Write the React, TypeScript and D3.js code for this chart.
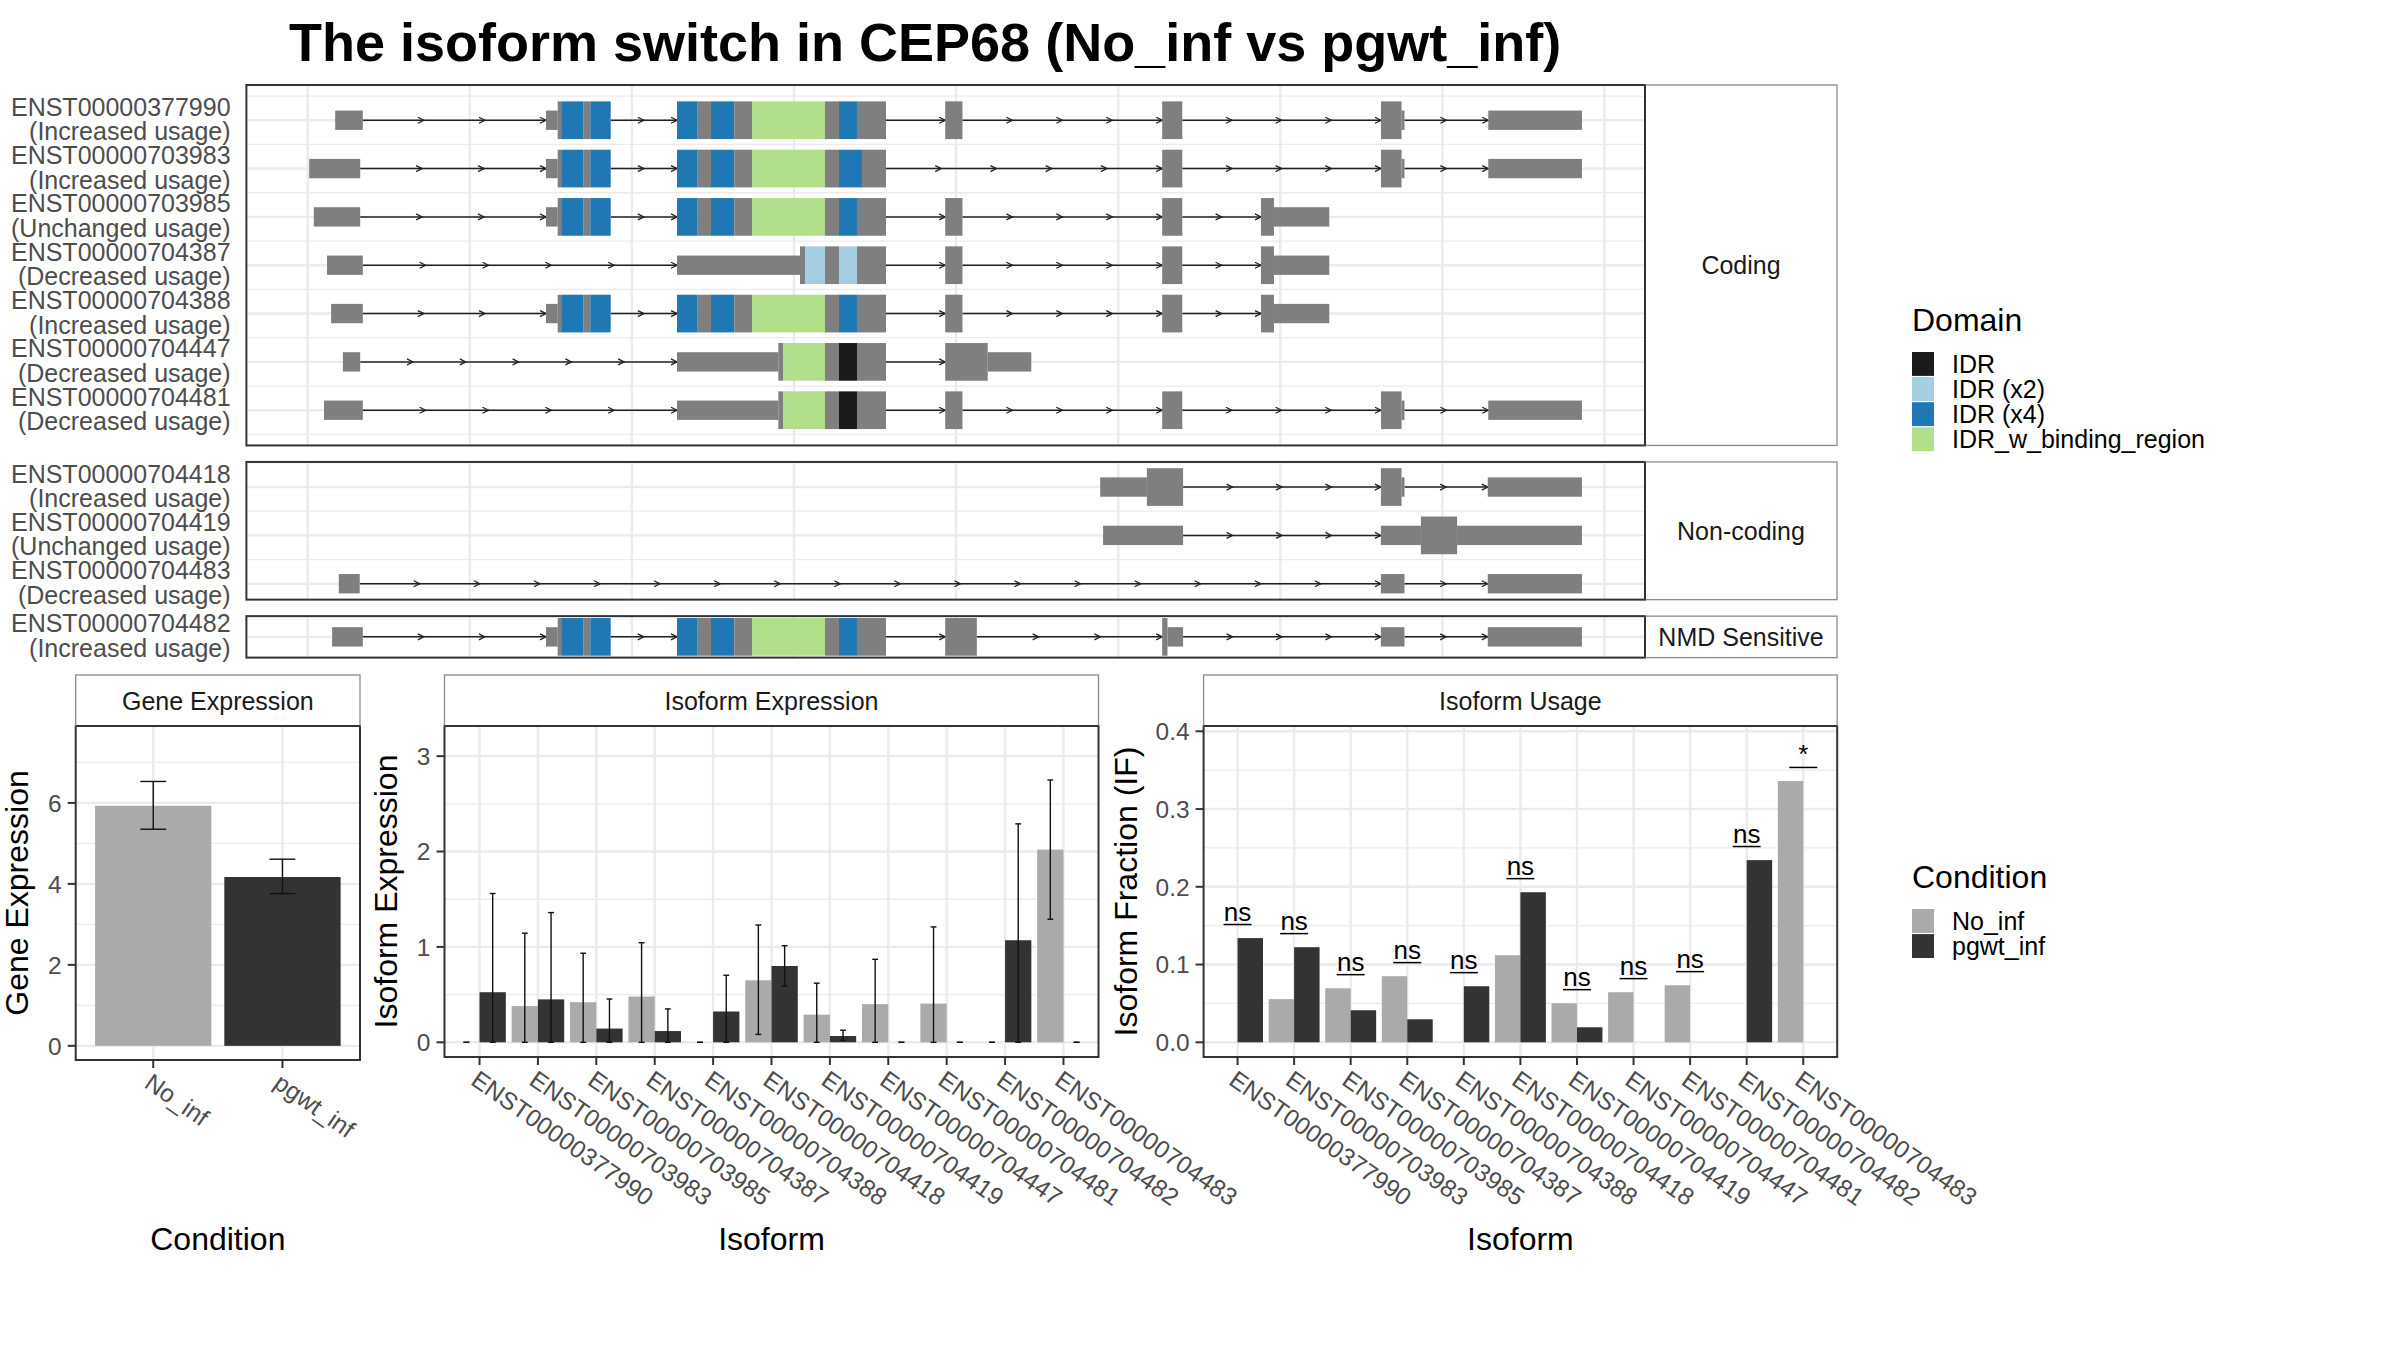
import React from 'react';
import * as d3 from 'd3';

const W = 2400;
const H = 1350;
const FONT = "'Liberation Sans', Arial, Helvetica, sans-serif";
const AXIS_TEXT = '#4D4D4D';
const GRID = '#EBEBEB';
const BORDER = '#333333';
const STRIP_BORDER = '#8C8C8C';
const EXON_GREY = '#7F7F7F';

// ---------------- Transcript structure data (positions in kb) ----------------
type Seg = [number, number, string];

const domainColors: Record<string, string> = {
  IDR: '#1A1A1A',
  IDR2: '#A6CEE3',
  IDR4: '#1F78B4',
  IDRb: '#B2DF8A',
};
const domainLegendLabels = ['IDR', 'IDR (x2)', 'IDR (x4)', 'IDR_w_binding_region'];
const domainLegendKeys = ['IDR', 'IDR2', 'IDR4', 'IDRb'];

const ex2: Seg[] = [[12.35, 12.711, 'U'], [12.711, 12.819, 'C'], [12.819, 13.498, 'IDR4'], [13.498, 13.717, 'C'], [13.717, 14.346, 'IDR4']];
const ex3a: Seg[] = [[16.391, 17.03, 'IDR4'], [17.03, 17.44, 'C'], [17.44, 18.159, 'IDR4'], [18.159, 18.705, 'C'], [18.705, 20.956, 'IDRb'], [20.956, 21.388, 'C']];
const ex3End: Seg[] = [[21.388, 21.943, 'IDR4'], [21.943, 22.838, 'C']];
const ex3EndLong: Seg[] = [[21.388, 22.097, 'IDR4'], [22.097, 22.838, 'C']];
const ex3EndIDR: Seg[] = [[21.388, 21.943, 'IDR'], [21.943, 22.838, 'C']];
const ex3Short: Seg[] = [[16.391, 19.516, 'U'], [19.516, 19.661, 'C'], [19.661, 20.956, 'IDRb'], [20.956, 21.388, 'C']];
const ex4: Seg[] = [[24.664, 25.197, 'C']];
const ex5: Seg[] = [[31.357, 31.977, 'C']];
const ex6: Seg[] = [[38.106, 38.741, 'C'], [38.741, 38.831, 'U']];
const ex7: Seg[] = [[41.416, 44.305, 'U']];
const exShortEnd: Seg[] = [[34.404, 34.805, 'C'], [34.805, 36.511, 'U']];

const facets = ['Coding', 'Non-coding', 'NMD Sensitive'];

const transcripts: { id: string; usage: string; group: string; segs: Seg[] }[] = [
  { id: 'ENST00000377990', usage: '(Increased usage)', group: 'Coding', segs: [[5.848, 6.7, 'U'], ...ex2, ...ex3a, ...ex3End, ...ex4, ...ex5, ...ex6, ...ex7] },
  { id: 'ENST00000703983', usage: '(Increased usage)', group: 'Coding', segs: [[5.046, 6.619, 'U'], ...ex2, ...ex3a, ...ex3EndLong, ...ex5, ...ex6, ...ex7] },
  { id: 'ENST00000703985', usage: '(Unchanged usage)', group: 'Coding', segs: [[5.188, 6.619, 'U'], ...ex2, ...ex3a, ...ex3End, ...ex4, ...ex5, ...exShortEnd] },
  { id: 'ENST00000704387', usage: '(Decreased usage)', group: 'Coding', segs: [[5.595, 6.7, 'U'], [16.391, 20.185, 'U'], [20.185, 20.339, 'C'], [20.339, 20.956, 'IDR2'], [20.956, 21.388, 'C'], [21.388, 21.943, 'IDR2'], [21.943, 22.838, 'C'], ...ex4, ...ex5, ...exShortEnd] },
  { id: 'ENST00000704388', usage: '(Increased usage)', group: 'Coding', segs: [[5.722, 6.7, 'U'], ...ex2, ...ex3a, ...ex3End, ...ex4, ...ex5, ...exShortEnd] },
  { id: 'ENST00000704447', usage: '(Decreased usage)', group: 'Coding', segs: [[6.086, 6.619, 'U'], ...ex3Short, ...ex3EndIDR, [24.664, 25.975, 'C'], [25.975, 27.32, 'U']] },
  { id: 'ENST00000704481', usage: '(Decreased usage)', group: 'Coding', segs: [[5.503, 6.7, 'U'], ...ex3Short, ...ex3EndIDR, ...ex4, ...ex5, ...ex6, ...ex7] },
  { id: 'ENST00000704418', usage: '(Increased usage)', group: 'Non-coding', segs: [[29.445, 30.885, 'U'], [30.885, 32.002, 'C'], [38.103, 38.741, 'C'], [38.741, 38.831, 'U'], [41.4, 44.305, 'U']] },
  { id: 'ENST00000704419', usage: '(Unchanged usage)', group: 'Non-coding', segs: [[29.534, 32.002, 'U'], [38.103, 39.337, 'U'], [39.337, 40.453, 'C'], [40.453, 44.305, 'U']] },
  { id: 'ENST00000704483', usage: '(Decreased usage)', group: 'Non-coding', segs: [[5.959, 6.604, 'U'], [38.103, 38.831, 'U'], [41.4, 44.305, 'U']] },
  { id: 'ENST00000704482', usage: '(Increased usage)', group: 'NMD Sensitive', segs: [[5.753, 6.7, 'U'], ...ex2, ...ex3a, ...ex3End, [24.664, 25.64, 'C'], [31.357, 31.521, 'C'], [31.521, 32.002, 'U'], [38.103, 38.831, 'U'], [41.4, 44.305, 'U']] },
];

const xDomainKb = [3.109, 46.25];
const xGridKb = [5, 10, 15, 20, 25, 30, 35, 40, 45];

// ---------------- Expression data ----------------
const conditions = ['No_inf', 'pgwt_inf'];
const condColors = ['#AAAAAA', '#333333'];
const geneExpr = [5.93, 4.17];
const geneErrLo = [5.35, 3.76];
const geneErrHi = [6.53, 4.61];

const isoforms = ['ENST00000377990', 'ENST00000703983', 'ENST00000703985', 'ENST00000704387', 'ENST00000704388', 'ENST00000704418', 'ENST00000704419', 'ENST00000704447', 'ENST00000704481', 'ENST00000704482', 'ENST00000704483'];
const isoExprNo = [0, 0.38, 0.42, 0.48, 0, 0.65, 0.29, 0.4, 0.406, 0, 2.02];
const isoExprPg = [0.525, 0.45, 0.144, 0.118, 0.323, 0.8, 0.066, 0, 0, 1.07, 0];
const isoExprNoLo = [0, 0, 0, 0, 0, 0.083, 0, 0, 0, 0, 1.29];
const isoExprNoHi = [0, 1.144, 0.934, 1.044, 0, 1.23, 0.62, 0.87, 1.21, 0, 2.75];
const isoExprPgLo = [0, 0, 0, 0, 0, 0.59, 0.02, 0, 0, 0, 0];
const isoExprPgHi = [1.56, 1.36, 0.454, 0.35, 0.703, 1.013, 0.127, 0, 0, 2.29, 0];

const ifNo = [0, 0.0555, 0.0695, 0.085, 0, 0.112, 0.0502, 0.0644, 0.0734, 0, 0.336];
const ifPg = [0.134, 0.1223, 0.0412, 0.0296, 0.0721, 0.193, 0.0193, 0, 0, 0.2343, 0];
const ifSig = ['ns', 'ns', 'ns', 'ns', 'ns', 'ns', 'ns', 'ns', 'ns', 'ns', '*'];

const geneTicks = [0, 2, 4, 6];
const geneMinor = [1, 3, 5, 7];
const isoTicks = [0, 1, 2, 3];
const isoMinor = [0.5, 1.5, 2.5];
const ifTicks = [0, 0.1, 0.2, 0.3, 0.4];
const ifMinor = [0.05, 0.15, 0.25, 0.35];

// ---------------- Layout ----------------
const trLeft = 246.4;
const trRight = 1645;
const stripRight = 1837;
const trTop = 85;
const rowUnit = 48.33;
const bigHalf = 0.39;
const smallHalf = 0.2;
const facetGap = 16.5;
const labelRight = 230.6;

function TranscriptPlot() {
  const x = d3.scaleLinear().domain(xDomainKb).range([trLeft, trRight]);
  let top = trTop;
  const out: any[] = [];
  facets.forEach((facet) => {
    const rows = transcripts.filter((t) => t.group === facet);
    const isBig = (t: any) => t.segs.some((s: Seg) => s[2] !== 'U');
    let lo = -(isBig(rows[0]) ? bigHalf : smallHalf);
    let hi = rows.length - 1 + (isBig(rows[rows.length - 1]) ? bigHalf : smallHalf);
    const r = hi - lo;
    lo -= 0.05 * r;
    hi += 0.05 * r;
    const h = (hi - lo) * rowUnit;
    const y = d3.scaleLinear().domain([lo, hi]).range([top, top + h]);
    const bottom = top + h;
    const minorYs: number[] = [];
    for (let i = -1; i < rows.length; i++) {
      const v = i + 0.5;
      if (v > lo && v < hi) minorYs.push(v);
    }
    out.push(
      <g key={facet}>
        <rect x={trLeft} y={top} width={trRight - trLeft} height={h} fill="#fff" />
        {minorYs.map((v) => (
          <line key={'mn' + v} x1={trLeft} x2={trRight} y1={y(v)} y2={y(v)} stroke={GRID} strokeWidth={1.3} />
        ))}
        {rows.map((t, i) => (
          <line key={'mj' + i} x1={trLeft} x2={trRight} y1={y(i)} y2={y(i)} stroke={GRID} strokeWidth={2.4} />
        ))}
        {xGridKb.map((g) => (
          <line key={'vg' + g} x1={x(g)} x2={x(g)} y1={top} y2={bottom} stroke={GRID} strokeWidth={2.4} />
        ))}
        {rows.map((t, i) => {
          const cy = y(i);
          const segs = [...t.segs].sort((a, b) => a[0] - b[0]);
          const introns: any[] = [];
          for (let k = 0; k < segs.length - 1; k++) {
            const x0 = x(segs[k][1]);
            const x1 = x(segs[k + 1][0]);
            const L = x1 - x0;
            if (L < 1) continue;
            introns.push(<line key={'in' + k} x1={x0} x2={x1} y1={cy} y2={cy} stroke="#222" strokeWidth={1.5} />);
            const n = Math.ceil(L / 63);
            for (let a = 1; a <= n; a++) {
              const ax = x0 + (a * L) / n;
              introns.push(
                <path key={'ar' + k + '_' + a} d={`M${ax - 6},${cy - 3} L${ax},${cy} L${ax - 6},${cy + 3}`} fill="none" stroke="#222" strokeWidth={1.3} />
              );
            }
          }
          return (
            <g key={t.id}>
              {introns}
              {segs.map((s, k) => {
                const half = (s[2] === 'U' ? smallHalf : bigHalf) * rowUnit;
                const fill = s[2] === 'U' || s[2] === 'C' ? EXON_GREY : domainColors[s[2]];
                return <rect key={'ex' + k} x={x(s[0])} y={cy - half} width={x(s[1]) - x(s[0])} height={2 * half} fill={fill} />;
              })}
              <text x={labelRight} y={cy - 4.5} textAnchor="end" fontSize={25} fill={AXIS_TEXT}>{t.id}</text>
              <text x={labelRight} y={cy + 20} textAnchor="end" fontSize={25} fill={AXIS_TEXT}>{t.usage}</text>
            </g>
          );
        })}
        <rect x={trLeft} y={top} width={trRight - trLeft} height={h} fill="none" stroke={BORDER} strokeWidth={2} />
        <rect x={trRight} y={top} width={stripRight - trRight} height={h} fill="#fff" stroke={STRIP_BORDER} strokeWidth={1.3} />
        <line x1={trRight} x2={trRight} y1={top} y2={bottom} stroke={BORDER} strokeWidth={2} />
        <text x={(trRight + stripRight) / 2} y={(top + bottom) / 2} dy="0.36em" textAnchor="middle" fontSize={25} fill="#1A1A1A">{facet}</text>
      </g>
    );
    top = bottom + facetGap;
  });
  return <g>{out}</g>;
}

type Series = { values: number[]; lo?: number[]; hi?: number[]; colors: string[] };

function BarPanel(props: {
  left: number; right: number; top: number; bottom: number; stripTop: number;
  title: string; cats: string[]; yDomain: number[]; yTicks: number[]; yMinor: number[];
  fmt: (v: number) => string; yLabel: string; yLabelX: number; xLabel: string;
  series: Series[]; capFrac: number; sig?: string[]; sigBase?: number[];
}) {
  const { left, right, top, bottom, stripTop, title, cats, yDomain, yTicks, yMinor, fmt, yLabel, yLabelX, xLabel, series, capFrac, sig, sigBase } = props;
  const xb = d3.scaleBand().domain(cats).range([left, right]).paddingInner(0.1).paddingOuter(0.15);
  const y = d3.scaleLinear().domain(yDomain).range([bottom, top]);
  const bw = xb.bandwidth();
  const step = xb.step();
  const n = series.length;
  const subW = bw / n;
  const capW = capFrac * step;
  const center = (c: string) => (xb(c) as number) + bw / 2;
  return (
    <g>
      <rect x={left} y={top} width={right - left} height={bottom - top} fill="#fff" />
      {yMinor.map((v) => (
        <line key={'ym' + v} x1={left} x2={right} y1={y(v)} y2={y(v)} stroke={GRID} strokeWidth={1.3} />
      ))}
      {yTicks.map((v) => (
        <line key={'yj' + v} x1={left} x2={right} y1={y(v)} y2={y(v)} stroke={GRID} strokeWidth={2.4} />
      ))}
      {cats.map((c) => (
        <line key={'xg' + c} x1={center(c)} x2={center(c)} y1={top} y2={bottom} stroke={GRID} strokeWidth={2.4} />
      ))}
      {series.map((s, si) =>
        cats.map((c, i) => {
          const v = s.values[i];
          if (v <= 0) return null;
          const bx = (xb(c) as number) + si * subW;
          return <rect key={'b' + si + '_' + i} x={bx} y={y(v)} width={subW} height={y(0) - y(v)} fill={s.colors[i]} />;
        })
      )}
      {series.map((s, si) =>
        s.hi
          ? cats.map((c, i) => {
              const ex = (xb(c) as number) + si * subW + subW / 2;
              const ylo = y(s.lo ? s.lo[i] : 0);
              const yhi = y(s.hi![i]);
              return (
                <g key={'e' + si + '_' + i} stroke="#111" strokeWidth={1.4}>
                  <line x1={ex} x2={ex} y1={ylo} y2={yhi} />
                  <line x1={ex - capW / 2} x2={ex + capW / 2} y1={yhi} y2={yhi} />
                  <line x1={ex - capW / 2} x2={ex + capW / 2} y1={ylo} y2={ylo} />
                </g>
              );
            })
          : null
      )}
      {sig && sigBase
        ? cats.map((c, i) => {
            const ly = y(sigBase[i] + 0.0175);
            const cx = center(c);
            return (
              <g key={'s' + i}>
                <line x1={cx - 14} x2={cx + 14} y1={ly} y2={ly} stroke="#000" strokeWidth={1.5} />
                <text x={cx} y={ly - 4} textAnchor="middle" fontSize={26} fill="#000">{sig[i]}</text>
              </g>
            );
          })
        : null}
      <rect x={left} y={top} width={right - left} height={bottom - top} fill="none" stroke={BORDER} strokeWidth={2} />
      <rect x={left} y={stripTop} width={right - left} height={top - stripTop} fill="#fff" stroke={STRIP_BORDER} strokeWidth={1.3} />
      <line x1={left} x2={right} y1={top} y2={top} stroke={BORDER} strokeWidth={2} />
      <text x={(left + right) / 2} y={(stripTop + top) / 2} dy="0.36em" textAnchor="middle" fontSize={25} fill="#1A1A1A">{title}</text>
      {yTicks.map((v) => (
        <g key={'yt' + v}>
          <line x1={left - 8} x2={left} y1={y(v)} y2={y(v)} stroke={BORDER} strokeWidth={2} />
          <text x={left - 14} y={y(v)} dy="0.36em" textAnchor="end" fontSize={24.5} fill={AXIS_TEXT}>{fmt(v)}</text>
        </g>
      ))}
      {cats.map((c) => (
        <g key={'xt' + c}>
          <line x1={center(c)} x2={center(c)} y1={bottom} y2={bottom + 8} stroke={BORDER} strokeWidth={2} />
          <text transform={`translate(${center(c)},${bottom + 12}) rotate(35)`} dy="0.72em" textAnchor="start" fontSize={24.5} fill={AXIS_TEXT}>{c}</text>
        </g>
      ))}
      <text transform={`translate(${yLabelX},${(top + bottom) / 2}) rotate(-90)`} textAnchor="middle" fontSize={32} fill="#000">{yLabel}</text>
      <text x={(left + right) / 2} y={1250} textAnchor="middle" fontSize={32} fill="#000">{xLabel}</text>
    </g>
  );
}

function Legend({ x, titleY, title, labels, colors }: { x: number; titleY: number; title: string; labels: string[]; colors: string[] }) {
  const keyTop = titleY + 21;
  const stepY = 25.1;
  return (
    <g>
      <text x={x} y={titleY} fontSize={32} fill="#000">{title}</text>
      {labels.map((l, i) => (
        <g key={l}>
          <rect x={x} y={keyTop + i * stepY} width={22} height={stepY - 1.2} fill={colors[i]} />
          <text x={x + 40} y={keyTop + i * stepY + (stepY - 1.2) / 2} dy="0.36em" fontSize={25} fill="#000">{l}</text>
        </g>
      ))}
    </g>
  );
}

export default function App() {
  const maxIF = ifNo.map((v, i) => Math.max(v, ifPg[i]));
  return (
    <svg width={W} height={H} viewBox={`0 0 ${W} ${H}`} style={{ position: 'absolute', left: 0, top: 0, background: '#fff' }} fontFamily={FONT}>
      <rect x={0} y={0} width={W} height={H} fill="#fff" />
      <text x={289} y={61} fontSize={54} fontWeight="bold" fill="#000">The isoform switch in CEP68 (No_inf vs pgwt_inf)</text>
      <TranscriptPlot />
      <Legend x={1912} titleY={331} title="Domain" labels={domainLegendLabels} colors={domainLegendKeys.map((k) => domainColors[k])} />
      <Legend x={1912} titleY={888} title="Condition" labels={conditions} colors={condColors} />
      <BarPanel
        left={75.7} right={360} top={726} bottom={1060} stripTop={675}
        title="Gene Expression" cats={conditions} yDomain={[-0.35, 7.9]} yTicks={geneTicks} yMinor={geneMinor}
        fmt={(v) => String(v)} yLabel="Gene Expression" yLabelX={28} xLabel="Condition"
        series={[{ values: geneExpr, lo: geneErrLo, hi: geneErrHi, colors: condColors }]} capFrac={0.2}
      />
      <BarPanel
        left={444.5} right={1098.5} top={726} bottom={1057} stripTop={675}
        title="Isoform Expression" cats={isoforms} yDomain={[-0.154, 3.316]} yTicks={isoTicks} yMinor={isoMinor}
        fmt={(v) => String(v)} yLabel="Isoform Expression" yLabelX={397} xLabel="Isoform"
        series={[
          { values: isoExprNo, lo: isoExprNoLo, hi: isoExprNoHi, colors: isoforms.map(() => condColors[0]) },
          { values: isoExprPg, lo: isoExprPgLo, hi: isoExprPgHi, colors: isoforms.map(() => condColors[1]) },
        ]}
        capFrac={0.1}
      />
      <BarPanel
        left={1203.6} right={1837.2} top={726} bottom={1057} stripTop={675}
        title="Isoform Usage" cats={isoforms} yDomain={[-0.0189, 0.4068]} yTicks={ifTicks} yMinor={ifMinor}
        fmt={(v) => v.toFixed(1)} yLabel="Isoform Fraction (IF)" yLabelX={1137} xLabel="Isoform"
        series={[
          { values: ifNo, colors: isoforms.map(() => condColors[0]) },
          { values: ifPg, colors: isoforms.map(() => condColors[1]) },
        ]}
        capFrac={0.1} sig={ifSig} sigBase={maxIF}
      />
    </svg>
  );
}
